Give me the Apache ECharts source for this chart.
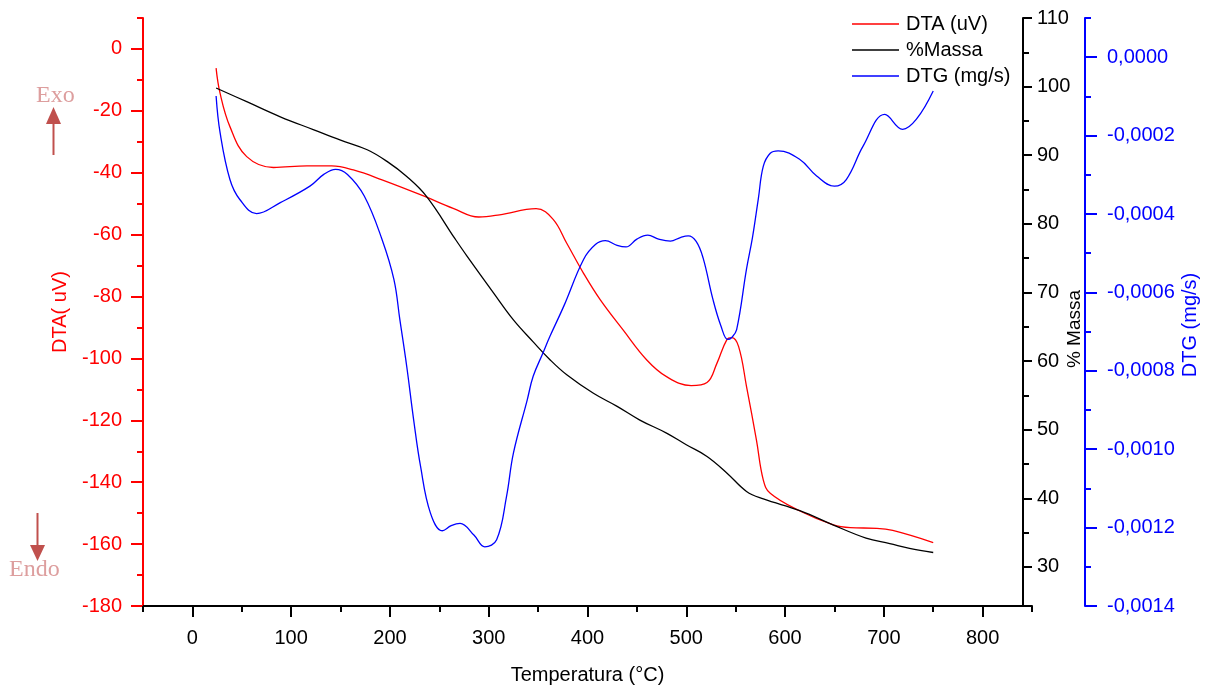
<!DOCTYPE html>
<html>
<head>
<meta charset="utf-8">
<title>DTA / TG / DTG</title>
<script src="https://cdn.jsdelivr.net/npm/echarts@6/dist/echarts.min.js"></script>
<style>
  html, body { margin: 0; padding: 0; background: #fff; }
  #chart { width: 1206px; height: 691px; }
</style>
</head>
<body>
<div id="chart"></div>
<script>
// temperature (°C) and readings, taken from the plot
var dtaTemp = [24, 28, 38, 55, 82, 116, 141, 163, 192, 234, 264, 290, 311, 348, 365, 379, 396, 413, 436, 460, 480, 505, 521, 531, 541, 546, 553, 561, 571, 578, 585, 615, 649, 666, 693, 709, 750];
var dtaValues = [-6.2, -14.3, -25.1, -34.8, -38.3, -37.8, -37.8, -39.1, -42.3, -47.5, -51.5, -54.3, -53.6, -51.6, -55.0, -62.8, -72.5, -81.1, -90.8, -100.5, -105.9, -108.8, -107.8, -101.6, -94.0, -93.3, -96.2, -109.1, -126.3, -139.3, -143.6, -149.3, -153.8, -154.7, -154.9, -155.6, -159.5];

var massTemp = [24, 55, 89, 123, 150, 177, 197, 217, 237, 266, 278, 305, 325, 345, 362, 379, 406, 430, 453, 480, 500, 521, 541, 561, 578, 615, 649, 682, 706, 726, 750];
var massValues = [99.8, 97.8, 95.6, 93.7, 92.2, 90.8, 89.1, 86.9, 84.0, 77.8, 75.3, 69.9, 66.0, 62.8, 60.2, 58.0, 55.3, 53.4, 51.4, 49.5, 47.8, 46.1, 43.7, 41.0, 39.9, 38.2, 36.1, 34.2, 33.4, 32.7, 32.1];

var dtgTemp = [24, 28, 38, 48, 65, 89, 119, 133, 145, 157, 174, 192, 204, 210, 217, 224, 231, 241, 253, 262, 271, 285, 296, 308, 318, 325, 339, 345, 355, 362, 376, 396, 408, 418, 430, 439, 450, 461, 472, 484, 494, 502, 510, 517, 527, 535, 542, 546, 551, 561, 567, 573, 578, 585, 593, 615, 632, 650, 662, 679, 701, 719, 733, 750];
var dtgValues = [-0.000099, -0.000192, -0.000312, -0.000363, -0.000399, -0.000371, -0.000329, -0.000299, -0.000286, -0.000299, -0.000354, -0.000465, -0.000567, -0.000669, -0.000789, -0.000925, -0.001044, -0.001163, -0.001208, -0.001195, -0.001189, -0.001219, -0.001249, -0.001231, -0.001121, -0.00101, -0.000874, -0.000814, -0.000754, -0.000712, -0.000635, -0.000516, -0.000478, -0.000468, -0.00048, -0.000484, -0.000464, -0.000454, -0.000464, -0.000469, -0.00046, -0.000456, -0.00047, -0.000512, -0.000618, -0.000685, -0.00072, -0.000715, -0.000695, -0.00054, -0.00046, -0.00036, -0.000278, -0.000245, -0.000239, -0.000261, -0.000303, -0.000329, -0.000312, -0.000227, -0.000146, -0.000184, -0.000158, -0.000086];

var tempTicks = [0, 100, 200, 300, 400, 500, 600, 700, 800];
var tempMinor = [-50, 50, 150, 250, 350, 450, 550, 650, 750, 850];
var dtaTicks = [-180, -160, -140, -120, -100, -80, -60, -40, -20, 0];
var dtaMinor = [-170, -150, -130, -110, -90, -70, -50, -30, -10, 10];
var massTicks = [30, 40, 50, 60, 70, 80, 90, 100, 110];
var massMinor = [35, 45, 55, 65, 75, 85, 95, 105];
var dtgTicks = [-0.0014, -0.0012, -0.001, -0.0008, -0.0006, -0.0004, -0.0002, 0];
var dtgMinor = [-0.0013, -0.0011, -0.0009, -0.0007, -0.0005, -0.0003, -0.0001, 0.0001];

function pairs(xs, ys) {
  return xs.map(function (x, i) { return [x, ys[i]]; });
}

var FONT = 'Liberation Sans, Arial, sans-serif';
var RED = '#ff0000', BLUE = '#0000ff', BLACK = '#000000';

// a bare axis that only draws the short (minor) ticks
function minorY(pos, min, max, values, color, offset) {
  return {
    type: 'value', position: pos, min: min, max: max, offset: offset || 0,
    axisLine: { show: false, onZero: false },
    axisTick: { show: true, length: 6, customValues: values, lineStyle: { color: color, width: 2 } },
    axisLabel: { show: false },
    splitLine: { show: false }
  };
}

var myChart = echarts.init(document.getElementById('chart'));
myChart.setOption({
  animation: false,
  grid: { left: 143, right: 174, top: 18, bottom: 85, containLabel: false, outerBoundsMode: 'none' },
  legend: {
    orient: 'vertical', left: 852, top: 14, padding: 0,
    icon: 'rect', itemWidth: 47, itemHeight: 1.5, itemGap: 6,
    textStyle: { fontFamily: FONT, fontSize: 20, color: BLACK, padding: [0, 0, 0, 2] },
    data: ['DTA (uV)', '%Massa', 'DTG (mg/s)']
  },
  xAxis: [
    {
      type: 'value', min: -50, max: 850,
      name: 'Temperatura (°C)', nameLocation: 'middle', nameGap: 59,
      nameTextStyle: { fontFamily: FONT, fontSize: 20, color: BLACK },
      axisLine: { show: true, onZero: false, lineStyle: { color: BLACK, width: 2 } },
      axisTick: { show: true, length: 11, customValues: tempTicks, lineStyle: { color: BLACK, width: 2 } },
      axisLabel: { customValues: tempTicks, margin: 22, fontFamily: FONT, fontSize: 20, color: BLACK },
      splitLine: { show: false }
    },
    {
      type: 'value', min: -50, max: 850, position: 'bottom',
      axisLine: { show: false, onZero: false },
      axisTick: { show: true, length: 6, customValues: tempMinor, lineStyle: { color: BLACK, width: 2 } },
      axisLabel: { show: false },
      splitLine: { show: false }
    }
  ],
  yAxis: [
    {
      type: 'value', position: 'left', min: -180, max: 10,
      name: 'DTA( uV)', nameLocation: 'middle', nameGap: 73, nameMoveOverlap: false,
      nameTextStyle: { fontFamily: FONT, fontSize: 20, color: RED },
      axisLine: { show: true, onZero: false, lineStyle: { color: RED, width: 2 } },
      axisTick: { show: true, length: 12, customValues: dtaTicks, lineStyle: { color: RED, width: 2 } },
      axisLabel: { customValues: dtaTicks, margin: 21, fontFamily: FONT, fontSize: 20, color: RED },
      splitLine: { show: false }
    },
    {
      type: 'value', position: 'right', offset: -9, min: 24.3, max: 110,
      name: '% Massa', nameLocation: 'middle', nameGap: 42, nameMoveOverlap: false,
      nameTextStyle: { fontFamily: FONT, fontSize: 19, color: BLACK, padding: [0, 34, 0, 0] },
      axisLine: { show: true, onZero: false, lineStyle: { color: BLACK, width: 2 } },
      axisTick: { show: true, length: 9, customValues: massTicks, lineStyle: { color: BLACK, width: 2 } },
      axisLabel: { customValues: massTicks, margin: 14, fontFamily: FONT, fontSize: 20, color: BLACK },
      splitLine: { show: false }
    },
    {
      type: 'value', position: 'right', offset: 53, min: -0.0014, max: 0.0001,
      name: 'DTG (mg/s)', nameLocation: 'middle', nameGap: 95, nameMoveOverlap: false,
      nameTextStyle: { fontFamily: FONT, fontSize: 20, color: BLUE, padding: [0, 26, 0, 0] },
      axisLine: { show: true, onZero: false, lineStyle: { color: BLUE, width: 2 } },
      axisTick: { show: true, length: 12, customValues: dtgTicks, lineStyle: { color: BLUE, width: 2 } },
      axisLabel: {
        customValues: dtgTicks, margin: 22, fontFamily: FONT, fontSize: 20, color: BLUE,
        formatter: function (v) { return v.toFixed(4).replace('.', ','); }
      },
      splitLine: { show: false }
    },
    minorY('left', -180, 10, dtaMinor, RED, 0),
    minorY('right', 24.3, 110, massMinor, BLACK, -9),
    minorY('right', -0.0014, 0.0001, dtgMinor, BLUE, 53)
  ],
  series: [
    {
      name: 'DTA (uV)', type: 'line', xAxisIndex: 0, yAxisIndex: 0,
      data: pairs(dtaTemp, dtaValues), smooth: 0.4, symbol: 'none',
      lineStyle: { color: RED, width: 1.3 }, itemStyle: { color: RED }
    },
    {
      name: '%Massa', type: 'line', xAxisIndex: 0, yAxisIndex: 1,
      data: pairs(massTemp, massValues), smooth: 0.4, symbol: 'none',
      lineStyle: { color: BLACK, width: 1.3 }, itemStyle: { color: BLACK }
    },
    {
      name: 'DTG (mg/s)', type: 'line', xAxisIndex: 0, yAxisIndex: 2,
      data: pairs(dtgTemp, dtgValues), smooth: 0.4, symbol: 'none',
      lineStyle: { color: BLUE, width: 1.3 }, itemStyle: { color: BLUE }
    }
  ],
  graphic: [
    { type: 'text', left: 36, top: 84, style: { text: 'Exo', font: '24px "Liberation Serif", "Times New Roman", serif', fill: '#dd9e9e' } },
    { type: 'line', shape: { x1: 53.5, y1: 155, x2: 53.5, y2: 120 }, style: { stroke: '#c0504d', lineWidth: 2 } },
    { type: 'polygon', shape: { points: [[46, 124], [61, 124], [53.5, 107]] }, style: { fill: '#c0504d' } },
    { type: 'line', shape: { x1: 37.5, y1: 513, x2: 37.5, y2: 548 }, style: { stroke: '#c0504d', lineWidth: 2 } },
    { type: 'polygon', shape: { points: [[30, 545], [45, 545], [37.5, 561]] }, style: { fill: '#c0504d' } },
    { type: 'text', left: 9, top: 558, style: { text: 'Endo', font: '24px "Liberation Serif", "Times New Roman", serif', fill: '#dd9e9e' } }
  ]
});
window.addEventListener('resize', function () { myChart.resize(); });
</script>
</body>
</html>
